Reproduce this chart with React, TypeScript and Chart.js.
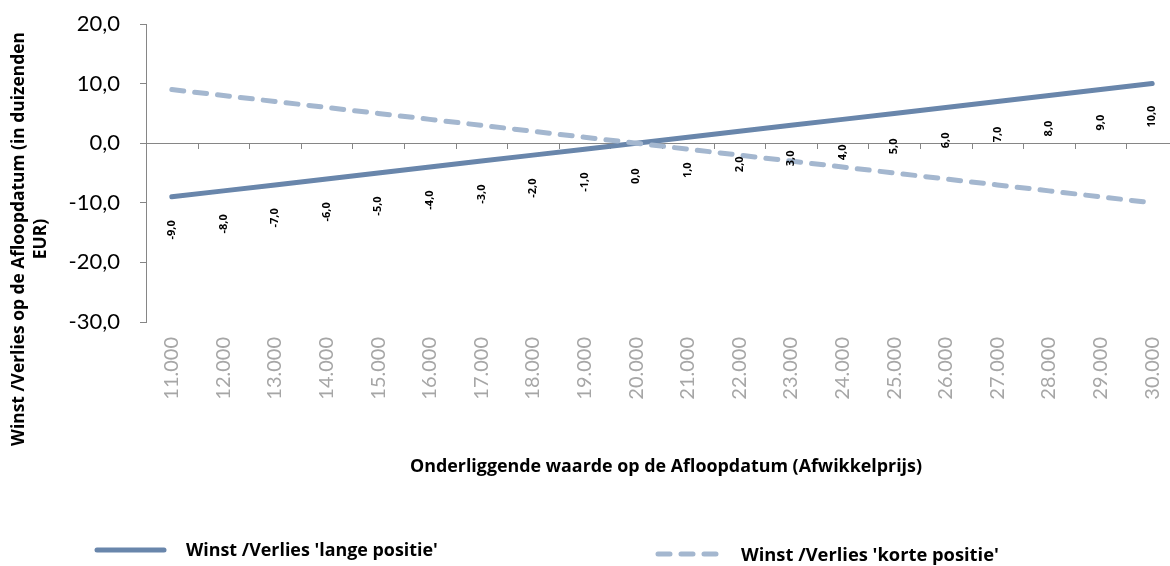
import React, { useEffect, useRef } from "react";
import { Chart, registerables } from "chart.js";

Chart.register(...registerables);

const categories = [
  "11.000", "12.000", "13.000", "14.000", "15.000", "16.000", "17.000", "18.000", "19.000", "20.000",
  "21.000", "22.000", "23.000", "24.000", "25.000", "26.000", "27.000", "28.000", "29.000", "30.000",
];
const longValues = [-9, -8, -7, -6, -5, -4, -3, -2, -1, 0, 1, 2, 3, 4, 5, 6, 7, 8, 9, 10];
const shortValues = [9, 8, 7, 6, 5, 4, 3, 2, 1, 0, -1, -2, -3, -4, -5, -6, -7, -8, -9, -10];
const yTitleLines = ["Winst /Verlies op de Afloopdatum (in duizenden", "EUR)"];
const xTitle = "Onderliggende waarde op de Afloopdatum (Afwikkelprijs)";
const longLabel = "Winst /Verlies 'lange positie'";
const shortLabel = "Winst /Verlies 'korte positie'";

const FONT = 'Lato, "Open Sans", "Liberation Sans", sans-serif';
const BOLD_FONT = '"Open Sans", "Liberation Sans", sans-serif';
const LONG_COLOR = "#6986ab";
const SHORT_COLOR = "#a4b7cf";
const AXIS_COLOR = "#868686";

const fmt = (v: number) => v.toFixed(1).replace(".", ",");

// set a bold font whose width matches the target width
function fitFont(ctx: CanvasRenderingContext2D, text: string, targetWidth: number, maxSize: number) {
  ctx.font = `bold 16px ${BOLD_FONT}`;
  const w = ctx.measureText(text).width;
  const size = Math.min(maxSize, (16 * targetWidth) / w);
  ctx.font = `bold ${size.toFixed(2)}px ${BOLD_FONT}`;
}

const decorPlugin = {
  id: "decor",
  beforeDatasetsDraw(chart: any) {
    const { ctx, chartArea, scales } = chart;
    const y0 = scales.y.getPixelForValue(0);
    ctx.save();
    ctx.strokeStyle = AXIS_COLOR;
    ctx.lineWidth = 1;
    ctx.beginPath();
    ctx.moveTo(chartArea.left, Math.round(y0) + 0.5);
    ctx.lineTo(chartArea.right, Math.round(y0) + 0.5);
    const n = categories.length;
    const w = (chartArea.right - chartArea.left) / n;
    for (let i = 1; i <= n; i++) {
      const x = Math.round(chartArea.left + i * w) + 0.5;
      ctx.moveTo(x, Math.round(y0));
      ctx.lineTo(x, Math.round(y0) + 6);
    }
    ctx.stroke();
    ctx.restore();
  },
  afterDatasetsDraw(chart: any) {
    const { ctx } = chart;
    const meta = chart.getDatasetMeta(0);
    ctx.save();
    ctx.fillStyle = "#000";
    ctx.font = `bold 11px ${BOLD_FONT}`;
    ctx.textAlign = "center";
    ctx.textBaseline = "middle";
    meta.data.forEach((pt: any, i: number) => {
      ctx.save();
      ctx.translate(pt.x, pt.y + 33);
      ctx.rotate(-Math.PI / 2);
      ctx.fillText(fmt(longValues[i]), 0, 0);
      ctx.restore();
    });
    ctx.restore();
  },
  afterDraw(chart: any) {
    const { ctx } = chart;
    ctx.save();
    ctx.fillStyle = "#000";
    ctx.textAlign = "center";
    ctx.textBaseline = "middle";
    // Y title
    fitFont(ctx, yTitleLines[0], 414, 20);
    const yPos = [19, 41];
    yTitleLines.forEach((t, i) => {
      ctx.save();
      ctx.translate(yPos[i], 239);
      ctx.rotate(-Math.PI / 2);
      ctx.fillText(t, 0, 0);
      ctx.restore();
    });
    // X title
    fitFont(ctx, xTitle, 512, 20);
    ctx.fillText(xTitle, 666, 467);
    // Legend
    ctx.lineCap = "round";
    ctx.lineWidth = 5;
    ctx.strokeStyle = LONG_COLOR;
    ctx.beginPath();
    ctx.moveTo(97, 550);
    ctx.lineTo(164, 550);
    ctx.stroke();
    ctx.strokeStyle = SHORT_COLOR;
    ctx.setLineDash([12, 11]);
    ctx.beginPath();
    ctx.moveTo(658, 554);
    ctx.lineTo(716, 554);
    ctx.stroke();
    ctx.setLineDash([]);
    ctx.textAlign = "left";
    fitFont(ctx, longLabel, 252, 20);
    ctx.fillText(longLabel, 186, 551);
    fitFont(ctx, shortLabel, 258, 20);
    ctx.fillText(shortLabel, 741, 556);
    ctx.restore();
  },
};

export default function App() {
  const ref = useRef<HTMLCanvasElement>(null);
  useEffect(() => {
    if (!ref.current) return;
    Chart.defaults.font.family = FONT;
    const chart = new Chart(ref.current, {
      type: "line",
      data: {
        labels: categories,
        datasets: [
          {
            label: longLabel,
            data: longValues,
            borderColor: LONG_COLOR,
            backgroundColor: LONG_COLOR,
            borderWidth: 5,
            borderCapStyle: "round",
            pointRadius: 0,
            tension: 0,
            order: 1,
          },
          {
            label: shortLabel,
            data: shortValues,
            borderColor: SHORT_COLOR,
            backgroundColor: SHORT_COLOR,
            borderWidth: 5,
            borderCapStyle: "round",
            borderDash: [12, 11],
            pointRadius: 0,
            tension: 0,
            order: 0,
          },
        ],
      },
      options: {
        animation: false,
        responsive: false,
        maintainAspectRatio: false,
        layout: { padding: { top: 24, right: 2, left: 0, bottom: 0 } },
        plugins: {
          legend: { display: false },
          tooltip: { enabled: false },
        },
        scales: {
          x: {
            offset: true,
            grid: { display: false, drawTicks: false },
            border: { display: false },
            ticks: {
              color: "#a6a6a6",
              font: { size: 20, family: FONT },
              maxRotation: 90,
              minRotation: 90,
              autoSkip: false,
              padding: 15,
            },
            afterFit: (s: any) => {
              s.height = 244;
              s.paddingLeft = 0;
              s.paddingRight = 0;
            },
          },
          y: {
            min: -30,
            max: 20,
            grid: {
              drawOnChartArea: false,
              drawTicks: true,
              tickLength: 6,
              color: AXIS_COLOR,
            },
            border: { display: true, color: AXIS_COLOR },
            ticks: {
              stepSize: 10,
              color: "#000",
              font: { size: 22, family: FONT },
              padding: 20,
              callback: (v: any) => fmt(Number(v)),
            },
            afterFit: (s: any) => {
              s.width = 146;
              s.paddingTop = 0;
              s.paddingBottom = 0;
            },
          },
        },
      },
      plugins: [decorPlugin],
    });
    return () => chart.destroy();
  }, []);
  return (
    <div style={{ position: "fixed", left: 0, top: 0, width: 1170, height: 566, overflow: "hidden", background: "#fff" }}>
      <canvas ref={ref} width={1180} height={566} style={{ display: "block" }} />
    </div>
  );
}
